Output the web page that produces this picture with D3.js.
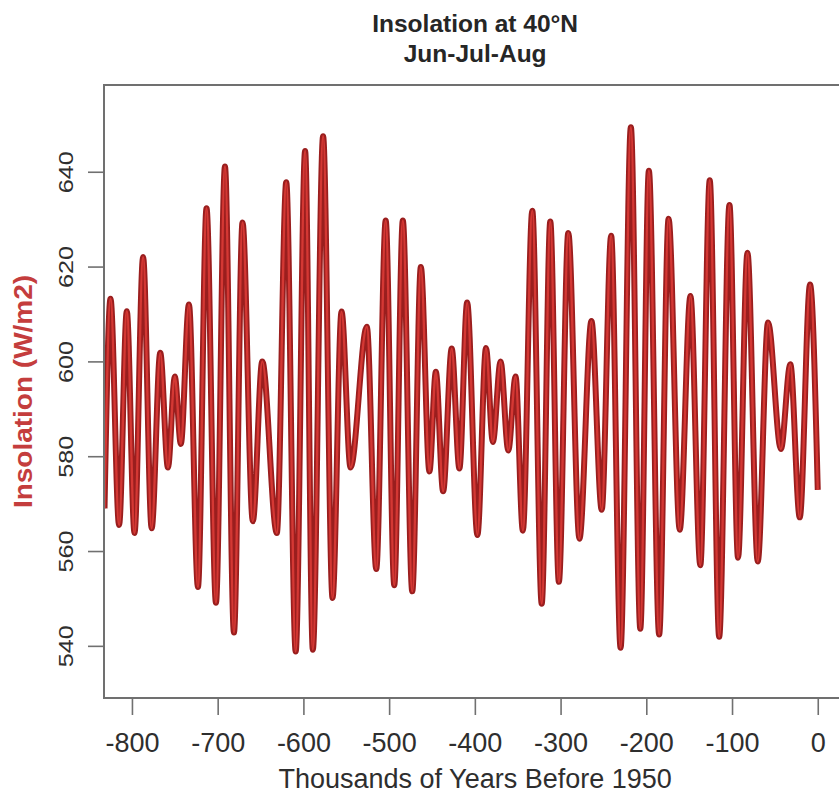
<!DOCTYPE html>
<html>
<head>
<meta charset="utf-8">
<script src="https://cdn.jsdelivr.net/npm/d3@7"></script>
<style>
    body { margin: 0; background: #fff; }
    svg { display: block; font-family: Arial, "Liberation Sans", sans-serif; }
</style>
</head>
<body>
<div id="chart"></div>
<script>
// turning points of the curve (thousands of years before 1950)
var years = [-832, -825, -815, -806, -797, -787, -777, -767, -758, -750,
    -743, -733.5, -723, -713, -702, -691.5, -681, -671, -659, -648,
    -631, -620, -609, -598, -589, -577, -566, -555.5, -545, -526,
    -515, -504, -494, -484, -473, -463, -453, -445.5, -437, -427,
    -418, -409, -397, -387, -379, -370, -361, -352.5, -344, -333,
    -322, -312, -302, -291, -278, -264, -252, -241, -230, -218,
    -207, -197, -185, -174, -161, -148.5, -137, -126, -115, -103,
    -93, -82, -70, -58, -43, -32, -21, -9, 0];

// insolation in W/m2 at those years
var insolation = [569, 613.2, 565.5, 610.6, 563.8, 622.0, 564.8, 601.8, 577.6, 596.8,
    582.6, 612.0, 552.4, 632.3, 549.1, 641.1, 542.8, 629.3, 566.3, 600.0,
    563.8, 637.8, 538.8, 644.4, 539.2, 647.5, 550.1, 610.5, 577.6, 607.3,
    556.2, 629.7, 552.8, 629.7, 551.5, 619.9, 576.8, 597.8, 572.6, 602.7,
    577.4, 612.4, 563.4, 602.8, 583.0, 600.0, 581.2, 596.8, 564.3, 631.8,
    548.9, 629.5, 553.5, 627.1, 562.6, 608.5, 568.7, 626.5, 539.6, 649.4,
    543.6, 640.2, 542.4, 630.1, 564.5, 613.8, 557.0, 638.2, 541.9, 633.0,
    558.6, 622.9, 557.8, 608.2, 581.5, 599.4, 567.1, 616.2, 572.9];

// axis ticks and labels
var xTicks = [-800, -700, -600, -500, -400, -300, -200, -100, 0];
var yTicks = [540, 560, 580, 600, 620, 640];
var xDomain = [-832.6, 33.3];
var yDomain = [529.0, 658.3];

var titleLines = ['Insolation at 40\u00b0N', 'Jun-Jul-Aug'];
var xTitle = 'Thousands of Years Before 1950';
var yTitle = 'Insolation (W/m2)';

function drawChart(){
    var width = 839,
        height = 793;

    // plot region (right edge runs past the window like in the picture)
    var left = 104,
        right = 846.3,
        top = 85,
        bottom = 698;

    var svg = d3.select('#chart').append('svg')
        .attr('width', width)
        .attr('height', height);

    var x = d3.scaleLinear().domain(xDomain).range([left, right]);
    var y = d3.scaleLinear().domain(yDomain).range([bottom, top]);

    var data = years.map(function(d, i){ return {year: d, value: insolation[i]}; });

    // title
    svg.append('g')
        .selectAll('text')
        .data(titleLines)
        .enter().append('text')
            .attr('x', (left + right) / 2)
            .attr('y', function(d, i){ return 32 + i * 30; })
            .attr('text-anchor', 'middle')
            .attr('font-size', 24.5)
            .attr('font-weight', 'bold')
            .attr('fill', '#262626')
            .text(function(d){ return d; });

    svg.append('clipPath')
        .attr('id', 'plotClip')
        .append('rect')
            .attr('x', left)
            .attr('y', top)
            .attr('width', right - left)
            .attr('height', bottom - top);

    // the insolation curve, drawn twice for the darker rim
    var line = d3.line()
        .x(function(d){ return x(d.year); })
        .y(function(d){ return y(d.value); })
        .curve(d3.curveMonotoneX);

    var curve = svg.append('g').attr('clip-path', 'url(#plotClip)');

    curve.append('path')
        .datum(data)
        .attr('fill', 'none')
        .attr('stroke', '#9a1e1e')
        .attr('stroke-width', 6)
        .attr('stroke-linejoin', 'round')
        .attr('d', line);

    curve.append('path')
        .datum(data)
        .attr('fill', 'none')
        .attr('stroke', '#d43834')
        .attr('stroke-width', 2.4)
        .attr('stroke-linejoin', 'round')
        .attr('d', line);

    // box round the plot
    svg.append('rect')
        .attr('x', left)
        .attr('y', top)
        .attr('width', right - left)
        .attr('height', bottom - top)
        .attr('fill', 'none')
        .attr('stroke', '#707070')
        .attr('stroke-width', 2);

    var plain = function(d){ return String(d); };

    // x axis
    var xAxis = svg.append('g')
        .attr('transform', 'translate(0,' + bottom + ')')
        .call(d3.axisBottom(x).tickValues(xTicks).tickFormat(plain)
            .tickSize(17).tickPadding(18).tickSizeOuter(0));

    // y axis
    var yAxis = svg.append('g')
        .attr('transform', 'translate(' + left + ',0)')
        .call(d3.axisLeft(y).tickValues(yTicks).tickFormat(plain)
            .tickSize(16).tickSizeOuter(0));

    [xAxis, yAxis].forEach(function(axis){
        axis.select('.domain').remove();
        axis.selectAll('line').attr('stroke', '#707070').attr('stroke-width', 1.6);
        axis.selectAll('text')
            .attr('font-family', 'Arial, "Liberation Sans", sans-serif')
            .attr('fill', '#2e2e2e');
    });

    xAxis.selectAll('text').attr('font-size', 27);

    // y labels turned like R does, a little taller than wide
    yAxis.selectAll('text')
        .attr('font-size', 21)
        .attr('text-anchor', 'middle')
        .attr('dy', null)
        .attr('x', 0)
        .attr('y', 0)
        .attr('transform', 'translate(-31.5,0) rotate(-90) scale(1.2,1)');

    // axis titles
    svg.append('text')
        .attr('x', (left + right) / 2)
        .attr('y', 788)
        .attr('text-anchor', 'middle')
        .attr('font-size', 27)
        .attr('fill', '#2e2e2e')
        .text(xTitle);

    svg.append('text')
        .attr('transform', 'translate(32,' + ((top + bottom) / 2) + ') rotate(-90) scale(1.12,1)')
        .attr('text-anchor', 'middle')
        .attr('font-size', 25)
        .attr('font-weight', 'bold')
        .attr('fill', '#c43d3d')
        .text(yTitle);
}

// on document load
drawChart();
</script>
</body>
</html>
